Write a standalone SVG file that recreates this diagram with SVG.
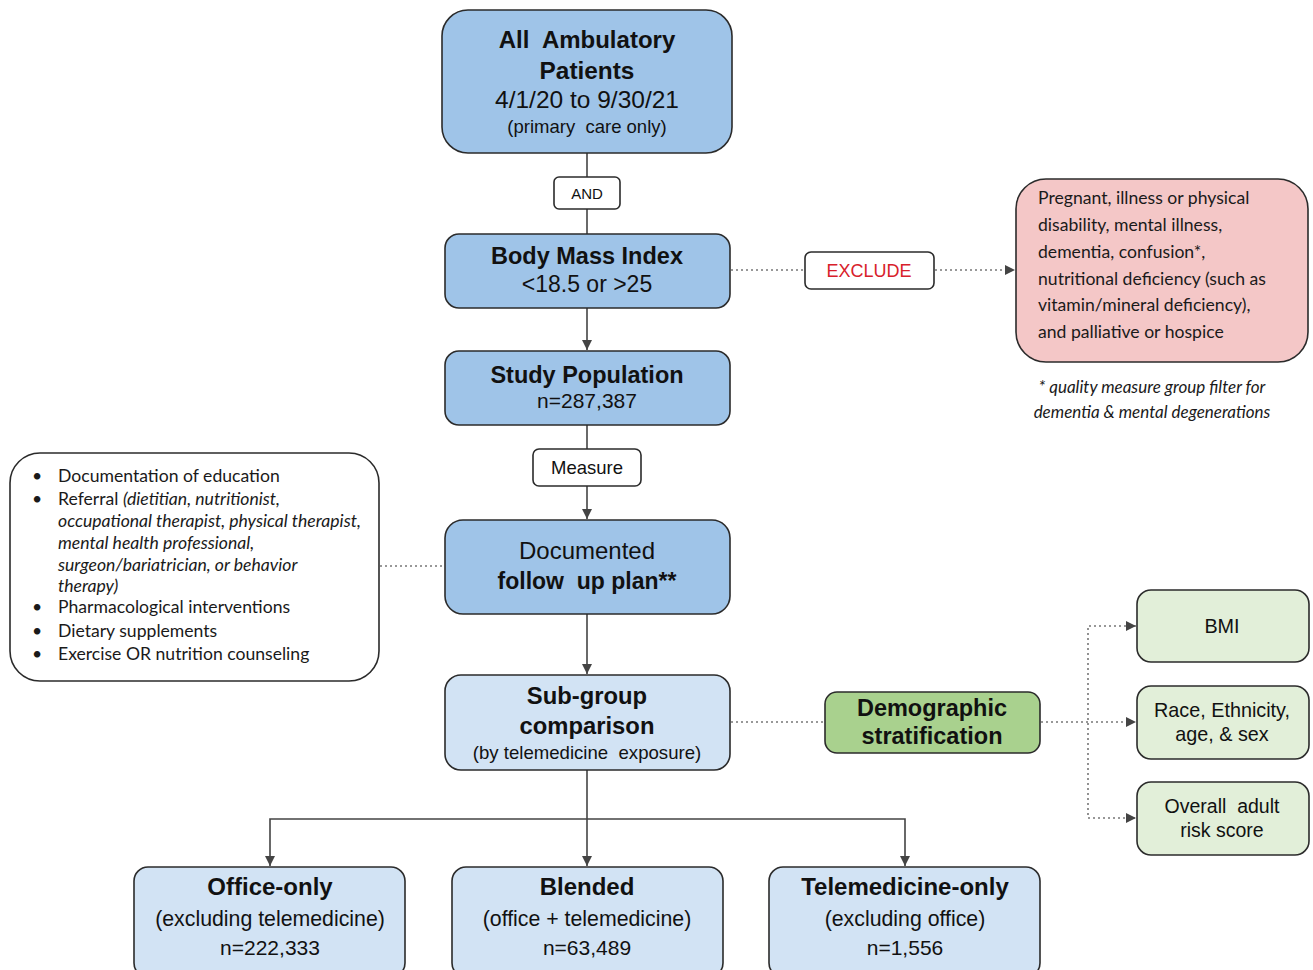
<svg xmlns="http://www.w3.org/2000/svg" width="1313" height="970" viewBox="0 0 1313 970">
<style>
.box{stroke:#2b2b2b;stroke-width:1.6}
.blue{fill:#9fc4e8}
.lblue{fill:#d2e3f4}
.green{fill:#a9d18e}
.lgreen{fill:#e2efd9}
.pink{fill:#f4c7c7}
.white{fill:#ffffff}
.a{font-family:"Liberation Sans",Arial,sans-serif;fill:#111;text-anchor:middle;white-space:pre}
.b{font-weight:bold}
.c{font-family:Lato,"Noto Sans",sans-serif;fill:#1a1a1a}
.ln{stroke:#444;stroke-width:1.6;fill:none}
.dt{stroke:#777;stroke-width:1.6;fill:none;stroke-dasharray:2 3}
</style>
<defs>
<marker id="ah" viewBox="0 0 10 10" refX="10" refY="5" markerWidth="10" markerHeight="10" markerUnits="userSpaceOnUse" orient="auto-start-reverse">
<path d="M0,0 L10,5 L0,10 z" fill="#444"/>
</marker>
</defs>
<rect width="1313" height="970" fill="#ffffff"/>

<g id="connectors">
<line class="ln" x1="587" y1="153" x2="587" y2="177"/>
<line class="ln" x1="587" y1="209" x2="587" y2="234"/>
<line class="ln" x1="587" y1="308" x2="587" y2="350" marker-end="url(#ah)"/>
<line class="ln" x1="587" y1="425" x2="587" y2="449"/>
<line class="ln" x1="587" y1="486" x2="587" y2="519" marker-end="url(#ah)"/>
<line class="ln" x1="587" y1="614" x2="587" y2="674" marker-end="url(#ah)"/>
<line class="ln" x1="587" y1="770" x2="587" y2="866" marker-end="url(#ah)"/>
<polyline class="ln" points="270,866 270,819 905,819 905,866" marker-start="url(#ah)" marker-end="url(#ah)"/>
<line class="dt" x1="731" y1="270" x2="805" y2="270"/>
<line class="dt" x1="935" y1="270" x2="1015" y2="270" marker-end="url(#ah)"/>
<line class="dt" x1="380" y1="566" x2="444" y2="566"/>
<line class="dt" x1="731" y1="722" x2="825" y2="722"/>
<line class="dt" x1="1041" y1="722" x2="1136" y2="722" marker-end="url(#ah)"/>
<polyline class="dt" points="1136,626 1088,626 1088,818 1136,818" marker-start="url(#ah)" marker-end="url(#ah)"/>
</g>

<g id="n-all">
<rect class="box blue" x="442" y="10" width="290" height="143" rx="26"/>
<text class="a b" x="587" y="48" font-size="24">All  Ambulatory</text>
<text class="a b" x="587" y="79" font-size="24.4">Patients</text>
<text class="a" x="587" y="108" font-size="24.5">4/1/20 to 9/30/21</text>
<text class="a" x="587" y="133" font-size="18.5">(primary  care only)</text>
</g>

<g id="n-and">
<rect class="box white" x="554" y="177" width="66" height="32" rx="5"/>
<text class="a" x="587" y="199" font-size="15">AND</text>
</g>

<g id="n-bmi">
<rect class="box blue" x="445" y="234" width="285" height="74" rx="14"/>
<text class="a b" x="587" y="264" font-size="23.5">Body Mass Index</text>
<text class="a" x="587" y="292" font-size="23">&lt;18.5 or &gt;25</text>
</g>

<g id="n-exclude">
<rect class="box white" x="805" y="252" width="129" height="37" rx="6"/>
<text class="a" x="869" y="277" font-size="18" style="fill:#d8202a">EXCLUDE</text>
</g>

<g id="n-excl-list">
<rect class="box pink" x="1016" y="179" width="292" height="183" rx="30"/>
<g class="c" font-size="17.6">
<text x="1038" y="204">Pregnant,  illness or physical</text>
<text x="1038" y="231">disability, mental illness,</text>
<text x="1038" y="258">dementia,  confusion*,</text>
<text x="1038" y="285">nutritional deficiency (such as</text>
<text x="1038" y="311">vitamin/mineral deficiency),</text>
<text x="1038" y="338">and palliative or hospice</text>
</g>
</g>

<g id="footnote">
<text class="c" x="1152" y="393" font-size="17" font-style="italic" text-anchor="middle">* quality measure group filter for</text>
<text class="c" x="1152" y="418" font-size="17" font-style="italic" text-anchor="middle">dementia &amp; mental degenerations</text>
</g>

<g id="n-study">
<rect class="box blue" x="445" y="351" width="285" height="74" rx="14"/>
<text class="a b" x="587" y="383" font-size="23.5">Study Population</text>
<text class="a" x="587" y="408" font-size="21">n=287,387</text>
</g>

<g id="n-measure">
<rect class="box white" x="533" y="449" width="108" height="37" rx="6"/>
<text class="a" x="587" y="474" font-size="18.5">Measure</text>
</g>

<g id="n-bullets">
<rect class="box white" x="10" y="453" width="369" height="228" rx="30"/>
<g class="c" font-size="17.6">
<text x="32" y="482">•</text><text x="58" y="482">Documentation of education</text>
<text x="32" y="505">•</text><text x="58" y="505">Referral <tspan font-style="italic">(dietitian, nutritionist,</tspan></text>
<text x="58" y="527" font-style="italic">occupational therapist, physical therapist,</text>
<text x="58" y="549" font-style="italic">mental health professional,</text>
<text x="58" y="571" font-style="italic">surgeon/bariatrician, or behavior</text>
<text x="58" y="592" font-style="italic">therapy)</text>
<text x="32" y="613">•</text><text x="58" y="613">Pharmacological interventions</text>
<text x="32" y="637">•</text><text x="58" y="637">Dietary supplements</text>
<text x="32" y="660">•</text><text x="58" y="660">Exercise OR nutrition counseling</text>
</g>
</g>

<g id="n-documented">
<rect class="box blue" x="445" y="520" width="285" height="94" rx="18"/>
<text class="a" x="587" y="559" font-size="24">Documented</text>
<text class="a b" x="587" y="589" font-size="23">follow  up plan**</text>
</g>

<g id="n-subgroup">
<rect class="box lblue" x="445" y="675" width="285" height="95" rx="16"/>
<text class="a b" x="587" y="704" font-size="23.8">Sub-group</text>
<text class="a b" x="587" y="734" font-size="23.8">comparison</text>
<text class="a" x="587" y="759" font-size="18.6">(by telemedicine  exposure)</text>
</g>

<g id="n-demographic">
<rect class="box green" x="825" y="692" width="215" height="61" rx="12"/>
<text class="a b" x="932" y="716" font-size="23.5">Demographic</text>
<text class="a b" x="932" y="744" font-size="23.5">stratification</text>
</g>

<g id="n-bmi-g">
<rect class="box lgreen" x="1137" y="590" width="172" height="72" rx="14"/>
<text class="a" x="1222" y="633" font-size="19.8">BMI</text>
</g>

<g id="n-race">
<rect class="box lgreen" x="1137" y="686" width="172" height="73" rx="14"/>
<text class="a" x="1222" y="717" font-size="19.8">Race, Ethnicity,</text>
<text class="a" x="1222" y="741" font-size="19.8">age, &amp; sex</text>
</g>

<g id="n-risk">
<rect class="box lgreen" x="1137" y="782" width="172" height="73" rx="14"/>
<text class="a" x="1222" y="813" font-size="19.5">Overall  adult</text>
<text class="a" x="1222" y="837" font-size="19.5">risk score</text>
</g>

<g id="n-office">
<rect class="box lblue" x="134" y="867" width="271" height="110" rx="14"/>
<text class="a b" x="270" y="895" font-size="24">Office-only</text>
<text class="a" x="270" y="926" font-size="21.3">(excluding telemedicine)</text>
<text class="a" x="270" y="955" font-size="21">n=222,333</text>
</g>

<g id="n-blended">
<rect class="box lblue" x="452" y="867" width="271" height="110" rx="14"/>
<text class="a b" x="587" y="895" font-size="24">Blended</text>
<text class="a" x="587" y="926" font-size="21.3">(office + telemedicine)</text>
<text class="a" x="587" y="955" font-size="21">n=63,489</text>
</g>

<g id="n-tele">
<rect class="box lblue" x="769" y="867" width="271" height="110" rx="14"/>
<text class="a b" x="905" y="895" font-size="24">Telemedicine-only</text>
<text class="a" x="905" y="926" font-size="21.3">(excluding office)</text>
<text class="a" x="905" y="955" font-size="21">n=1,556</text>
</g>
</svg>
